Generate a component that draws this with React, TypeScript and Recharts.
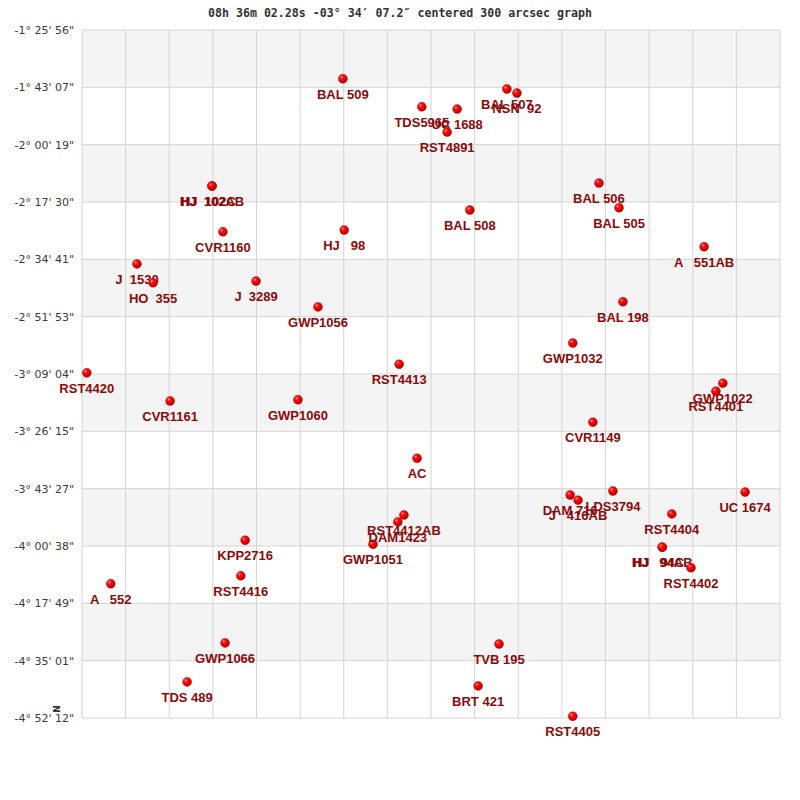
import React from 'react';
import { ScatterChart, Scatter, XAxis, YAxis, CartesianGrid } from 'recharts';

// grid columns (RA offset) and rows (dec)
const STAR_NAMES = [
  'BAL 509', 'TDS5965', 'UC 1688', 'BAL 507', 'NSN  92', 'RST4891',
  'HJ  102AB', 'HJ  102C  ', 'CVR1160', 'HJ   98', 'J  1530', 'HO  355',
  'J  3289', 'GWP1056', 'BAL 506', 'BAL 508', 'BAL 505', 'A   551AB',
  'BAL 198', 'GWP1032', 'RST4420', 'CVR1161', 'GWP1060', 'RST4413',
  'GWP1022', 'RST4401', 'CVR1149', 'AC', 'GWP1051', 'DAM1423',
  'RST4412AB', 'DAM 716', 'J   416AB', 'LDS3794', 'UC 1674', 'RST4404',
  'HJ   94AB', 'HJ   94C  ', 'RST4402', 'KPP2716', 'RST4416', 'A   552',
  'GWP1066', 'TDS 489', 'TVB 195', 'BRT 421', 'RST4405',
];
const STAR_X = [
  5.98, 7.79, 8.60, 9.74, 9.97, 8.37,
  2.98, 2.98, 3.23, 6.01, 1.26, 1.63,
  3.99, 5.41, 11.85, 8.89, 12.31, 14.26,
  12.40, 11.25, 0.11, 2.02, 4.95, 7.27,
  14.69, 14.53, 11.71, 7.68, 6.67, 7.24,
  7.38, 11.19, 11.37, 12.17, 15.20, 13.52,
  13.30, 13.30, 13.96, 3.74, 3.64, 0.66,
  3.28, 2.41, 9.56, 9.08, 11.25,
];
const STAR_Y = [
  0.85, 1.34, 1.38, 1.03, 1.10, 1.78,
  2.72, 2.72, 3.52, 3.49, 4.08, 4.41,
  4.38, 4.83, 2.67, 3.14, 3.10, 3.78,
  4.74, 5.46, 5.98, 6.47, 6.45, 5.83,
  6.16, 6.30, 6.84, 7.47, 8.97, 8.58,
  8.46, 8.11, 8.20, 8.04, 8.06, 8.44,
  9.02, 9.02, 9.38, 8.90, 9.52, 9.66,
  10.69, 11.37, 10.71, 11.44, 11.97,
];

const DEC_LABELS = [
  '-1° 25\' 56"', '-1° 43\' 07"', '-2° 00\' 19"', '-2° 17\' 30"', '-2° 34\' 41"',
  '-2° 51\' 53"', '-3° 09\' 04"', '-3° 26\' 15"', '-3° 43\' 27"', '-4° 00\' 38"',
  '-4° 17\' 49"', '-4° 35\' 01"', '-4° 52\' 12"',
];
const X_TICKS = Array.from({ length: 17 }, (_, i) => i);
const Y_TICKS = DEC_LABELS.map((_, i) => i);

const TITLE = '08h 36m 02.28s -03° 34′ 07.2″ centered 300 arcsec graph';

const stars = STAR_NAMES.map((name, i) => ({ name, x: STAR_X[i], y: STAR_Y[i] }));

function StarShape(props: any) {
  const { cx, cy, payload } = props;
  if (cx == null || cy == null) return null;
  return (
    <g>
      <circle cx={cx} cy={cy} r={4.5} fill="url(#starBall)" stroke="#b00000" strokeWidth={0.4} />
      <text
        x={cx}
        y={cy + 20}
        textAnchor="middle"
        fill="#8b0a0a"
        fontFamily="Liberation Sans, Arial, sans-serif"
        fontWeight="bold"
        fontSize={13}
        style={{ whiteSpace: 'pre' }}
      >
        {payload.name}
      </text>
    </g>
  );
}

export default function App() {
  return (
    <div style={{ position: 'absolute', left: 0, top: 0, width: 800, height: 800, background: '#fff' }}>
      <svg width={0} height={0} style={{ position: 'absolute' }}>
        <defs>
          <radialGradient id="starBall" cx="35%" cy="32%" r="70%">
            <stop offset="0%" stopColor="#ffa0a0" />
            <stop offset="30%" stopColor="#ff0c0c" />
            <stop offset="100%" stopColor="#b00000" />
          </radialGradient>
        </defs>
      </svg>
      <div
        style={{
          position: 'absolute', left: 0, top: 5, width: 800, textAlign: 'center',
          fontFamily: 'DejaVu Sans Mono, monospace', fontWeight: 'bold', fontSize: 11.6,
          color: '#333', lineHeight: '16px',
        }}
      >
        {TITLE}
      </div>
      <ScatterChart width={800} height={800} margin={{ top: 30, right: 20, bottom: 82, left: 0 }}>
        <CartesianGrid
          stroke="#d4d4d4"
          horizontalFill={['#f4f4f4', '#ffffff']}
          fillOpacity={1}
        />
        <XAxis
          type="number"
          dataKey="x"
          domain={[0, 16]}
          ticks={X_TICKS}
          interval={0}
          height={0}
          tickFormatter={() => ''}
          tick={{ fontSize: 0 }}
          axisLine={false}
          tickLine={false}
        />
        <YAxis
          type="number"
          dataKey="y"
          domain={[0, 12]}
          ticks={Y_TICKS}
          interval={0}
          reversed
          width={82}
          axisLine={false}
          tickLine={false}
          tickSize={0}
          tickMargin={8}
          tickFormatter={(v: number) => DEC_LABELS[v] ?? ''}
          tick={{ fill: '#3a3a3a', fontSize: 11, fontFamily: 'DejaVu Sans, sans-serif' }}
        />
        <Scatter data={stars} shape={StarShape} isAnimationActive={false} />
      </ScatterChart>
      <div
        style={{
          position: 'absolute', left: 51, top: 703, width: 12, height: 12,
          fontFamily: 'DejaVu Sans, sans-serif', fontWeight: 'bold', fontSize: 9,
          color: '#333', transform: 'rotate(-90deg)', lineHeight: '12px', textAlign: 'center',
        }}
      >
        N
      </div>
    </div>
  );
}
